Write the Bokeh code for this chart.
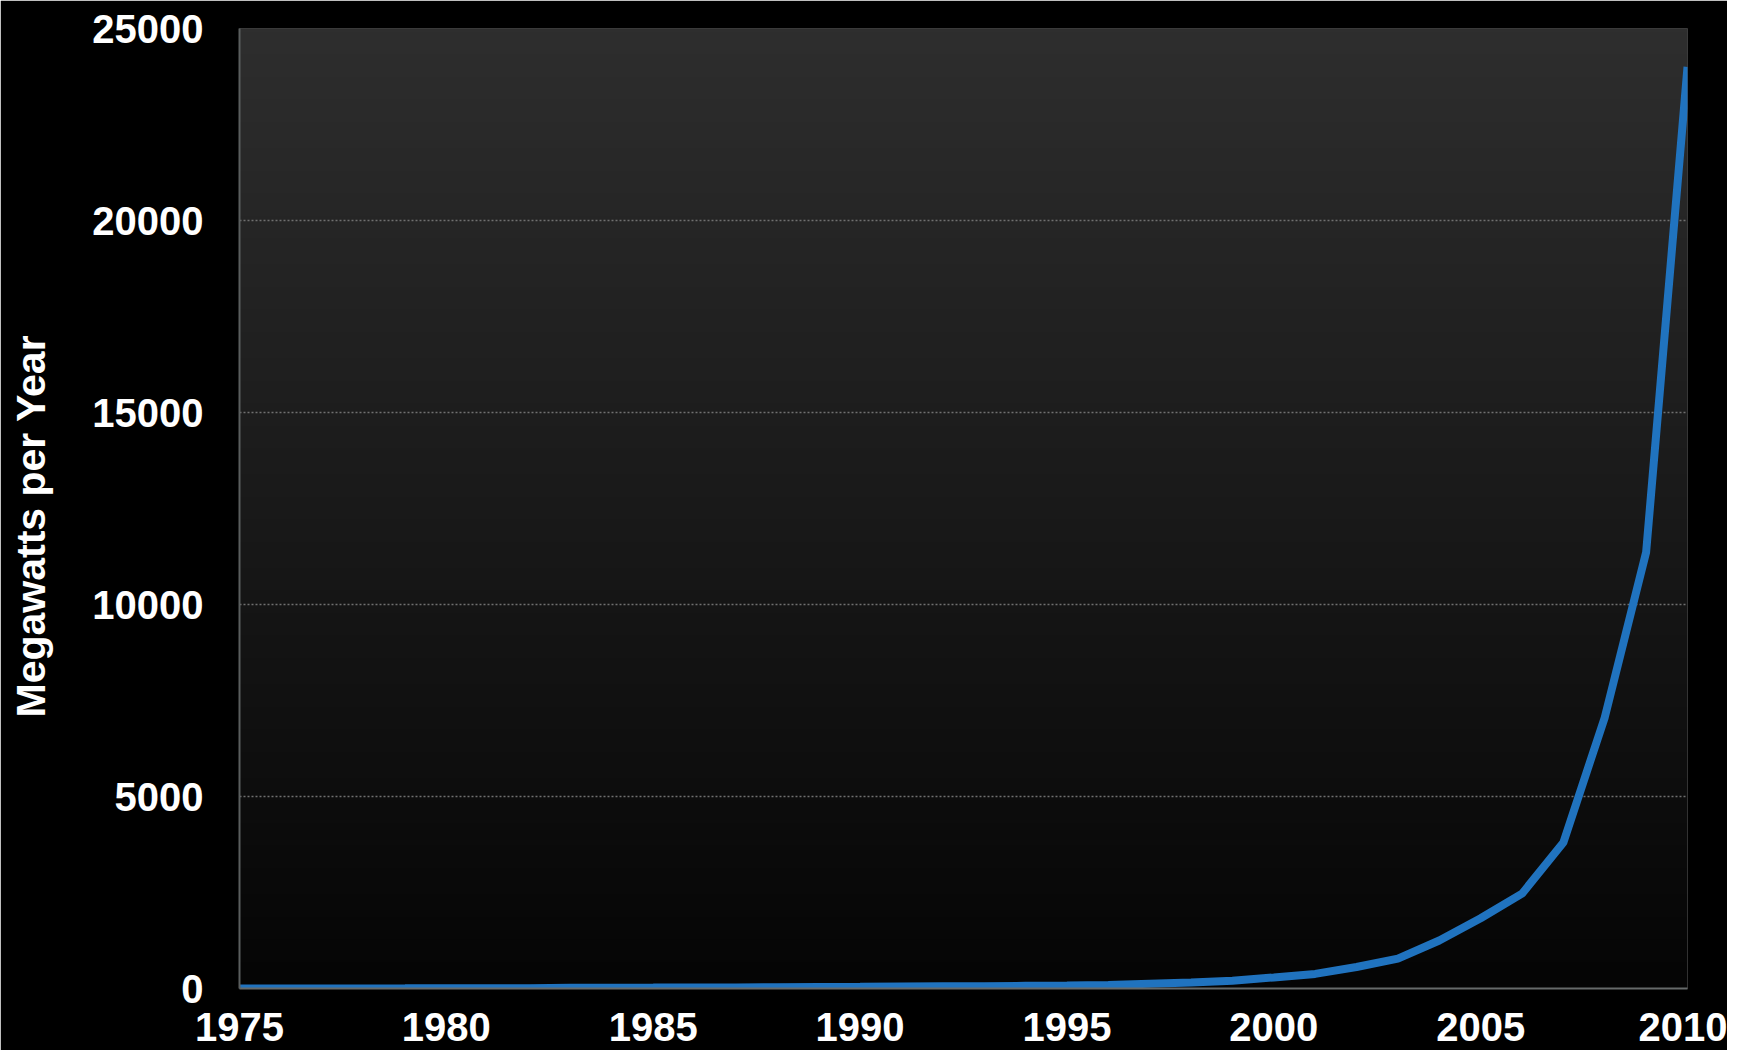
import numpy as np
from bokeh.plotting import figure
from bokeh.models import FixedTicker, Range1d, Title, LinearAxis
from bokeh.embed import file_html
from bokeh.resources import INLINE

years = list(range(1975, 2011))
megawatts = [2, 2, 3, 3, 4, 7, 8, 9, 17, 22,
             23, 26, 29, 34, 40, 46, 55, 58, 60, 69,
             78, 89, 126, 155, 201, 288, 380, 560, 780, 1250,
             1830, 2470, 3800, 7060, 11360, 24000]
x_ticks = [1975, 1980, 1985, 1990, 1995, 2000, 2005, 2010]
y_ticks = [0, 5000, 10000, 15000, 20000, 25000]
y_label = "Megawatts per Year"

FONT = "Liberation Sans"

p = figure(width=1727, height=1050, output_backend="svg", toolbar_location=None,
           x_range=Range1d(x_ticks[0], x_ticks[-1]), y_range=Range1d(y_ticks[0], y_ticks[-1]),
           min_border_left=239, min_border_right=40, min_border_top=28, min_border_bottom=62)

p.background_fill_color = "black"
p.border_fill_color = "black"
p.outline_line_color = None

# vertical gradient background for the plotting area
n = 256
t = np.linspace(0, 1, n)  # 0 bottom -> 1 top
top_c, bot_c = 46, 5
vals = (bot_c + (top_c - bot_c) * t).astype(np.uint32)
img = np.empty((n, 1), dtype=np.uint32)
view = img.view(dtype=np.uint8).reshape((n, 1, 4))
view[:, 0, 0] = vals
view[:, 0, 1] = vals
view[:, 0, 2] = vals
view[:, 0, 3] = 255
p.image_rgba(image=[img], x=x_ticks[0], y=y_ticks[0],
             dw=x_ticks[-1] - x_ticks[0], dh=y_ticks[-1] - y_ticks[0], level="image")

p.line(years, megawatts, line_color="#2073BF", line_width=8)

p.xgrid.grid_line_color = None
p.ygrid.grid_line_color = "#707070"
p.ygrid.grid_line_width = 1.5
p.ygrid.grid_line_dash = "2 2"
p.ygrid.ticker = FixedTicker(ticks=y_ticks)

p.xaxis.ticker = FixedTicker(ticks=x_ticks)
p.yaxis.ticker = FixedTicker(ticks=y_ticks)

for ax in (p.xaxis, p.yaxis):
    ax.major_tick_line_color = None
    ax.minor_tick_line_color = None
    ax.major_tick_out = 0
    ax.major_tick_in = 0
    ax.major_label_text_color = "white"
    ax.major_label_text_font = FONT
    ax.major_label_text_font_style = "bold"
    ax.major_label_text_font_size = "40px"

p.yaxis.axis_line_color = "#5a5e5e"
p.yaxis.axis_line_width = 2
p.xaxis.axis_line_color = "#666a6a"
p.xaxis.axis_line_width = 2
p.yaxis.major_label_standoff = 36
p.xaxis.major_label_standoff = 24

# blank axis (one black tick on the black margin, no label) used only as a
# spacer between the tick labels and the title
spacer = LinearAxis(ticker=FixedTicker(ticks=[y_ticks[0]]), axis_line_color=None,
                    major_tick_line_color="black", minor_tick_line_color=None,
                    major_tick_in=0, major_tick_out=36, major_label_standoff=0,
                    major_label_overrides={y_ticks[0]: ""})
p.add_layout(spacer, "left")

# y-axis title as a side title, starting a little below the frame centre
ytitle = Title(text=y_label, align="left", offset=271, standoff=0,
               text_color="white", text_font=FONT, text_font_style="bold",
               text_font_size="41px")
p.add_layout(ytitle, "left")

open("out.html", "w").write(file_html(p, INLINE))
